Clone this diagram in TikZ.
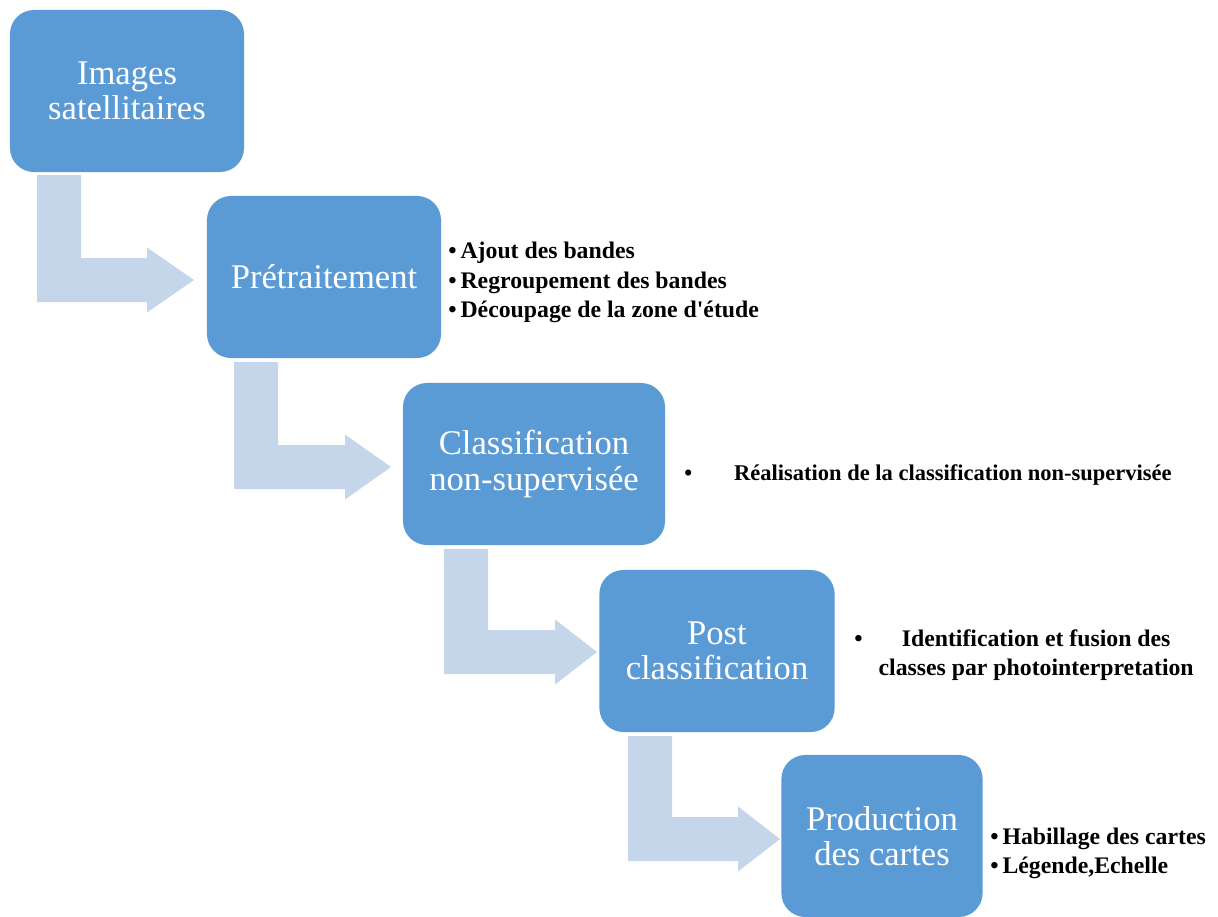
\documentclass[tikz,border=0pt]{standalone}
\usepackage{fontspec}
\setmainfont{Liberation Serif}
\usetikzlibrary{positioning}
\definecolor{boxblue}{RGB}{91,155,213}
\definecolor{arrowblue}{RGB}{197,213,234}
\tikzset{
  stepbox/.style={rectangle,rounded corners=0.6cm,fill=boxblue,text=white,
             align=center,minimum height=4.05cm,inner sep=2pt,
             font=\fontsize{24.6}{25}\selectfont},
  barr/.style={fill=arrowblue,draw=none},
  lst/.style={font=\fontsize{16.9}{21}\selectfont\bfseries,inner sep=0pt,
             anchor=west,align=left},
}
% bent block arrow: stem left, stem top, head centre y, head base, tip
\newcommand{\bentarrow}[5]{%
  \fill[barr] (#1,#2) -- (#1+44,#2) -- (#1+44,#3-22) -- (#4,#3-22)
    -- (#4,#3-32.5) -- (#5,#3) -- (#4,#3+32.5) -- (#4,#3+22)
    -- (#1,#3+22) -- cycle;}

\begin{document}
\begin{tikzpicture}[x=0.025cm,y=-0.025cm]
    \useasboundingbox (0,0) rectangle (1218,916);
    % arrows between the steps
    \bentarrow{37}{175}{280}{147}{194}
    \bentarrow{234}{362}{467}{345}{391}
    \bentarrow{444}{549}{652}{555}{597}
    \bentarrow{628}{736}{839}{738}{780}
    % steps
    \node[stepbox,minimum width=5.85cm] (img) at (127,91) {Images\\satellitaires};
    \node[stepbox,minimum width=5.85cm] (pre) at (324,277) {Prétraitement};
    \node[stepbox,minimum width=6.55cm] (cls) at (534,464) {Classification\\non-supervisée};
    \node[stepbox,minimum width=5.88cm] (post) at (717,651) {Post\\classification};
    \node[stepbox,minimum width=5.03cm] (prod) at (882,836) {Production\\des cartes};
    % task lists
    \node[lst] (pretxt) at (448,282.5) {•\,Ajout des bandes\\•\,Regroupement des bandes\\
      •\,Découpage de la zone d\textquotesingle étude};
    \node[lst,font=\fontsize{16}{21}\selectfont\bfseries] (clstxt) at (684,475)
      {•\hspace{1.05cm}Réalisation de la classification non-supervisée};
    \node[lst] (posttxt) at (854,655) {\begin{tabular}{@{}l@{\hspace{0.4cm}}c@{}}
      • & Identification et fusion des\\ & classes par photointerpretation\end{tabular}};
    \node[lst] (prodtxt) at (990,853.5) {•\,Habillage des cartes\\•\,Légende,Echelle};
  \end{tikzpicture}
\end{document}
